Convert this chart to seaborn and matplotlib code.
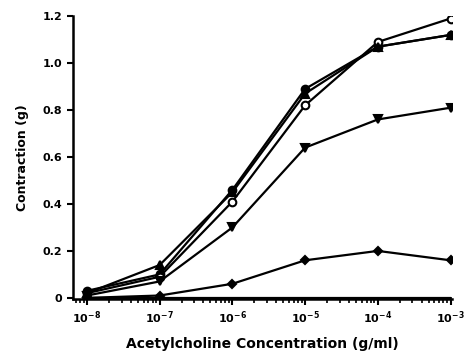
import numpy as np
import pandas as pd
import matplotlib
matplotlib.use("Agg")
import matplotlib.pyplot as plt
import matplotlib.ticker as mticker
import seaborn as sns

# concentracao de acetilcolina (g/ml)
conc = [1e-8, 1e-7, 1e-6, 1e-5, 1e-4, 1e-3]

# contracao (g) por serie
circulo_cheio = [0.03, 0.10, 0.46, 0.89, 1.07, 1.12]
circulo_aberto = [0.02, 0.09, 0.41, 0.82, 1.09, 1.19]
triangulo_cima = [0.02, 0.14, 0.45, 0.87, 1.07, 1.12]
triangulo_baixo = [0.01, 0.07, 0.30, 0.64, 0.76, 0.81]
losango = [0.00, 0.01, 0.06, 0.16, 0.20, 0.16]
zero = [0.00, 0.00, 0.00, 0.00, 0.00, 0.00]

series = [
    (circulo_cheio, "o", "black", 5.5),
    (circulo_aberto, "o", "white", 5.5),
    (triangulo_cima, "^", "black", 5.5),
    (triangulo_baixo, "v", "black", 5.5),
    (losango, "D", "black", 4),
    (zero, "", "black", 0),
]

sns.set_style("ticks")
plt.rcParams["font.family"] = ["DejaVu Sans"]
plt.rcParams["font.weight"] = "bold"
plt.rcParams["text.color"] = "black"
plt.rcParams["axes.labelcolor"] = "black"
plt.rcParams["xtick.color"] = "black"
plt.rcParams["ytick.color"] = "black"
plt.rcParams["axes.edgecolor"] = "black"

fig = plt.figure(figsize=(4.67, 3.59), dpi=100)
ax = fig.add_axes([0.156, 0.167, 0.812, 0.788])

for valores, marcador, face, tam in series:
    df = pd.DataFrame({"conc": conc, "contr": valores})
    sns.lineplot(data=df, x="conc", y="contr", ax=ax, color="black",
                 linewidth=1.6, marker=marcador if marcador else None,
                 markersize=tam, markerfacecolor=face,
                 markeredgecolor="black", markeredgewidth=1.5)

ax.set_xscale("log")
ax.set_xlim(6.4e-9, 1.05e-3)
ax.set_ylim(-0.005, 1.2)

ax.xaxis.set_major_locator(mticker.LogLocator(base=10, numticks=10))
ax.xaxis.set_minor_locator(mticker.LogLocator(base=10, subs=np.arange(2, 10), numticks=10))
ax.xaxis.set_major_formatter(mticker.FuncFormatter(
    lambda v, p: r"$\mathbf{10^{%d}}$" % int(round(np.log10(v)))))
ax.xaxis.set_minor_formatter(mticker.NullFormatter())

ax.set_yticks([0, 0.2, 0.4, 0.6, 0.8, 1.0, 1.2])
ax.set_yticklabels(["0", "0.2", "0.4", "0.6", "0.8", "1.0", "1.2"])

ax.tick_params(axis="both", which="major", length=4, width=1.5, labelsize=8)
ax.tick_params(axis="x", which="minor", length=3, width=1.2)
for lab in ax.get_yticklabels():
    lab.set_fontweight("bold")

sns.despine(ax=ax)
for s in ["left", "bottom"]:
    ax.spines[s].set_linewidth(1.8)

ax.set_xlabel("Acetylcholine Concentration (g/ml)", fontsize=10, fontweight="bold", labelpad=8)
ax.set_ylabel("Contraction (g)", fontsize=9, fontweight="bold", labelpad=10)

fig.savefig("out.png", dpi=100)
plt.close(fig)
